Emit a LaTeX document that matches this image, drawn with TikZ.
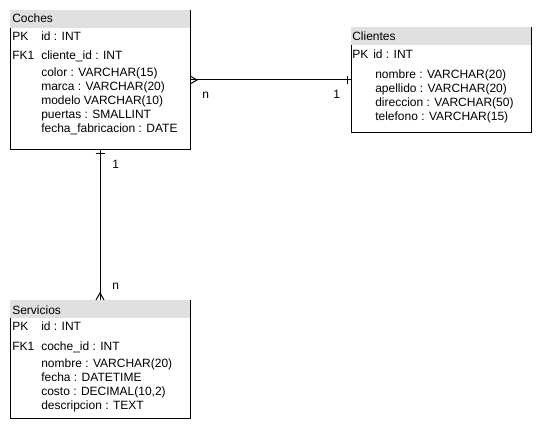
\documentclass[tikz,border=0pt]{standalone}
\usepackage{fontspec}
\setmainfont{Liberation Sans}
\usetikzlibrary{calc}
\definecolor{grisCab}{HTML}{E0E0E0}
\tikzset{
  tabla/.style={minimum width=135pt, inner sep=0pt, outer sep=0pt},
  cabecera/.style={fill=grisCab},
  borde/.style={line width=0.75pt},
  campo/.style={anchor=base west, inner sep=0pt, font=\fontsize{9}{11}\selectfont},
  relacion/.style={line width=0.75pt},
}
\begin{document}
\begin{tikzpicture}[x=0.75pt, y=-0.75pt]
    \useasboundingbox (0,0) rectangle (542,431);
    % Tablas
    \node[tabla, minimum height=105pt] (coches) at (100,80) {};
    \node[tabla, minimum height=79.5pt] (clientes) at (441,80) {};
    \node[tabla, minimum height=88.5pt] (servicios) at (100,359) {};
    % Cabeceras y bordes
    \foreach \t in {coches,clientes,servicios} {
        \fill[cabecera] (\t.north west) rectangle ($(\t.north east)+(0,18)$);
        \draw[borde] ($(\t.north west)+(0,18)$) -- (\t.south west)
            -- (\t.south east) -- (\t.north east);
    }
    % Coches
    \node[campo] (coches-t) at (12,23) {Coches};
    \node[campo] (coches-pk) at (12,40.7) {PK};
    \node[campo] (coches-id) at (41,40.7) {id : INT};
    \node[campo] (coches-fk) at (12,60) {FK1};
    \node[campo] (coches-cid) at (41,60) {cliente\_id : INT};
    \foreach \txt [count=\i] in {color : VARCHAR(15), marca : VARCHAR(20),
        modelo VARCHAR(10), puertas : SMALLINT, fecha\_fabricacion : DATE}
        \node[campo] (coches-\i) at (41,63+14*\i) {\txt};
    % Clientes
    \node[campo] (clientes-t) at (352,40.7) {Clientes};
    \node[campo] (clientes-pk) at (352,59) {PK};
    \node[campo] (clientes-id) at (373,59) {id : INT};
    \foreach \txt [count=\i] in {nombre : VARCHAR(20), apellido : VARCHAR(20),
        direccion : VARCHAR(50), telefono : VARCHAR(15)}
        \node[campo] (clientes-\i) at (375,64.5+14*\i) {\txt};
    % Servicios
    \node[campo] (servicios-t) at (12,314) {Servicios};
    \node[campo] (servicios-pk) at (12,330.7) {PK};
    \node[campo] (servicios-id) at (41,330.7) {id : INT};
    \node[campo] (servicios-fk) at (12,350) {FK1};
    \node[campo] (servicios-cid) at (41,350) {coche\_id : INT};
    \foreach \txt [count=\i] in {nombre : VARCHAR(20), fecha : DATETIME,
        {costo : DECIMAL(10,2)}, descripcion : TEXT}
        \node[campo] (servicios-\i) at (41,353+14*\i) {\txt};
    % Coches -- Clientes (n:1)
    \draw[relacion] (coches.east) -- (clientes.west);
    \draw[relacion] ($(coches.east)+(0,-4)$) -- ($(coches.east)+(7,0)$)
        -- ($(coches.east)+(0,4)$);
    \draw[relacion] ($(clientes.west)+(-4,-4)$) -- ($(clientes.west)+(-4,4)$);
    \node[campo] (n-cc) at (202,99) {n};
    \node[campo] (uno-cc) at (333,99) {1};
    % Coches -- Servicios (1:n)
    \draw[relacion] (coches.south) -- (servicios.north);
    \draw[relacion] ($(coches.south)+(-4.5,4)$) -- ($(coches.south)+(4.5,4)$);
    \draw[relacion] ($(servicios.north)+(-4,0)$) -- ($(servicios.north)+(0,-7)$)
        -- ($(servicios.north)+(4,0)$);
    \node[campo] (uno-cs) at (112,168.3) {1};
    \node[campo] (n-cs) at (112,289) {n};
\end{tikzpicture}
\end{document}
